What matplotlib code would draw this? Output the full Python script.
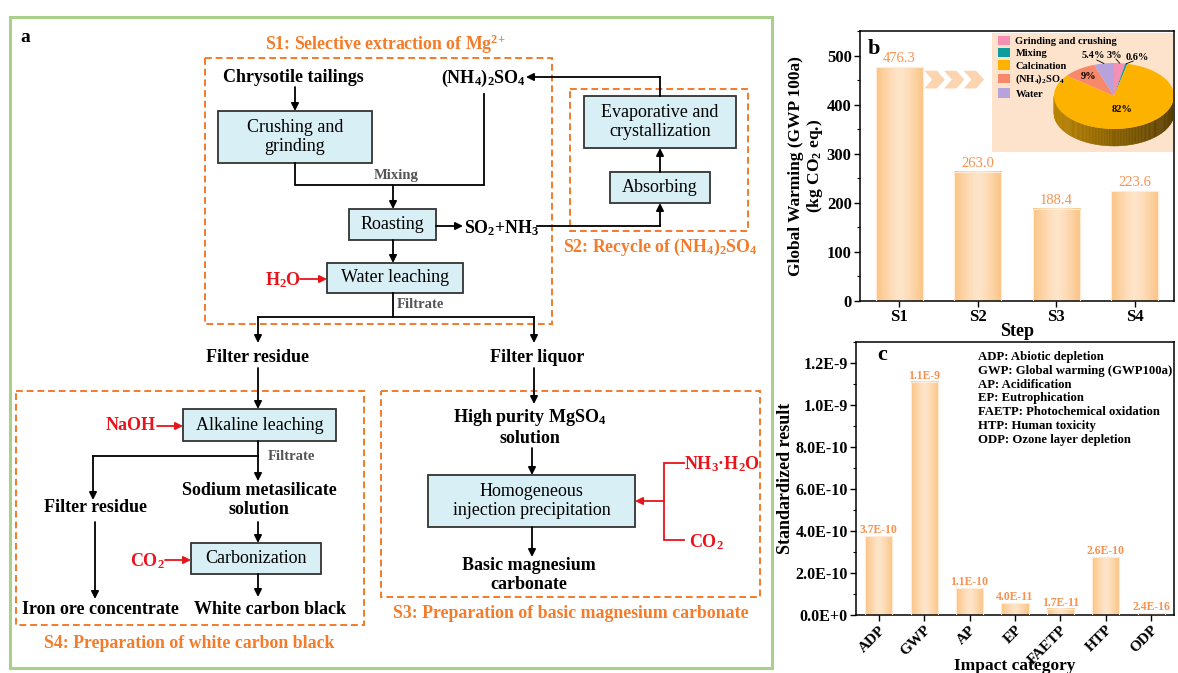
import numpy as np
import matplotlib
matplotlib.use("Agg")
import matplotlib.pyplot as plt
from matplotlib.patches import Rectangle, Polygon, Patch
from matplotlib.colors import LinearSegmentedColormap, to_rgb
from matplotlib.ticker import MultipleLocator, FuncFormatter, FixedLocator

plt.rcParams['font.family'] = ['Liberation Serif', 'DejaVu Serif']
plt.rcParams['font.weight'] = 'bold'
plt.rcParams['axes.labelweight'] = 'bold'
plt.rcParams['mathtext.fontset'] = 'custom'
plt.rcParams['mathtext.rm'] = 'Liberation Serif'
plt.rcParams['mathtext.bf'] = 'Liberation Serif:bold'
plt.rcParams['mathtext.it'] = 'Liberation Serif:italic'

# ---- panel b: GWP per step ----
steps = ["S1", "S2", "S3", "S4"]
gwp_step = [476.3, 263.0, 188.4, 223.6]

# ---- inset pie (S1 contribution) ----
pie_labels = ["Grinding and crushing", "Mixing", "Calcination",
              r"$\mathregular{(NH_4)_2SO_4}$", "Water"]
pie_share = [3, 0.6, 82, 9, 5.4]
pie_text = ["3%", "0.6%", "82%", "9%", "5.4%"]
pie_colors = ["#F590B4", "#109C9C", "#FDB200", "#F7896A", "#B8A2DC"]

# ---- panel c: standardized results ----
impact_cats = ["ADP", "GWP", "AP", "EP", "FAETP", "HTP", "ODP"]
impact_vals = [3.75e-10, 1.11e-9, 1.27e-10, 5.5e-11, 3.0e-11, 2.75e-10, 8e-12]
impact_text = ["3.7E-10", "1.1E-9", "1.1E-10", "4.0E-11", "1.7E-11", "2.6E-10", "2.4E-16"]
impact_notes = ["ADP: Abiotic depletion",
                "GWP: Global warming (GWP100a)",
                "AP: Acidification",
                "EP: Eutrophication",
                "FAETP: Photochemical oxidation",
                "HTP: Human toxicity",
                "ODP: Ozone layer depletion"]

ORANGE = "#F47B29"
RED = "#E8141B"
GRAY = "#555555"
BOX_FC = "#D8EFF6"
VAL_C = "#F7914F"
FS = 13       # flow chart labels
FS_T = 12.8   # section titles

fig = plt.figure(figsize=(11.78, 6.73), dpi=100)

# -----------------------------
# panel a: flow chart (pixel coords)
# -----------------------------
ov = fig.add_axes([0, 0, 1, 1], zorder=0)
ov.set_xlim(0, 1178)
ov.set_ylim(673, 0)
ov.axis('off')


def box(x0, y0, x1, y1, label):
    ov.add_patch(Rectangle((x0, y0), x1 - x0, y1 - y0, fc=BOX_FC, ec='#333333', lw=1.3))
    ov.text((x0 + x1) / 2, (y0 + y1) / 2, label, ha='center', va='center',
            fontsize=FS, fontweight='normal', linespacing=1.2)


def arrow(x0, y0, x1, y1, color='black'):
    ov.annotate('', xy=(x1, y1), xytext=(x0, y0),
                arrowprops=dict(arrowstyle='-|>', color=color, lw=1.3,
                                mutation_scale=11, shrinkA=0, shrinkB=0))


def path(xs, ys, color='black'):
    ov.plot(xs, ys, color=color, lw=1.3, solid_joinstyle='miter')


def dashed(x0, y0, x1, y1):
    ov.add_patch(Rectangle((x0, y0), x1 - x0, y1 - y0, fill=False, ec=ORANGE,
                           lw=1.4, ls=(0, (3.5, 2))))


def txt(x, y, s, size=FS, color='black', ha='center', **kw):
    ov.text(x, y, s, ha=ha, va='center', fontsize=size, color=color, **kw)


ov.add_patch(Rectangle((10, 17), 762, 651, fill=False, ec='#A8CF8C', lw=2.2))
txt(20, 37, "a", size=14, ha='left')

# S1
dashed(205, 58, 552, 324)
txt(385, 44, r"S1: Selective extraction of $\mathregular{Mg^{2{+}}}$", size=FS_T, color=ORANGE)
txt(293, 77, "Chrysotile tailings")
txt(483, 78, r"$\mathregular{(NH_4)_2SO_4}$")
arrow(295, 87, 295, 111)
box(218, 111, 372, 163, "Crushing and\ngrinding")
path([295, 295, 484, 484], [163, 185, 185, 94])
txt(396, 176, "Mixing", size=10.5, color=GRAY)
arrow(393, 185, 393, 209)
box(349, 209, 436, 240, "Roasting")
arrow(436, 226, 463, 226)
txt(464, 228, r"$\mathregular{SO_2{+}NH_3}$", ha='left', size=12.8)
path([537, 660], [226, 226])
arrow(660, 226, 660, 203)
arrow(393, 240, 393, 263)
box(327, 263, 463, 293, "Water leaching")
txt(283, 280, r"$\mathregular{H_2O}$", color=RED)
arrow(300, 279, 327, 279, color=RED)
path([393, 393], [293, 317])
txt(397, 305, "Filtrate", size=10.5, color=GRAY, ha='left')
path([258, 534], [317, 317])
arrow(258, 317, 258, 343)
arrow(534, 317, 534, 343)

# S2
dashed(570, 89, 748, 231)
box(610, 172, 710, 203, "Absorbing")
arrow(660, 172, 660, 148)
box(584, 96, 736, 148, "Evaporative and\ncrystallization")
path([660, 660], [96, 77])
arrow(660, 77, 526, 77)
txt(660, 247, r"S2: Recycle of $\mathregular{(NH_4)_2SO_4}$", size=FS_T, color=ORANGE)

# S4
txt(258, 357, "Filter residue")
arrow(258, 368, 258, 409)
dashed(16, 391, 364, 625)
box(183, 409, 336, 441, "Alkaline leaching")
txt(131, 426, "NaOH", color=RED)
arrow(157, 426, 183, 426, color=RED)
arrow(258, 441, 258, 481)
txt(268, 456, "Filtrate", size=10.5, color=GRAY, ha='left')
path([258, 93], [456, 456])
arrow(93, 456, 93, 500)
txt(95, 508, "Filter residue")
txt(259, 500, "Sodium metasilicate\nsolution", linespacing=1.15)
arrow(95, 522, 95, 599)
txt(100, 610, "Iron ore concentrate")
arrow(258, 522, 258, 543)
box(191, 543, 321, 574, "Carbonization")
txt(147, 561, r"$\mathregular{CO_2}$", color=RED)
arrow(165, 560, 191, 560, color=RED)
arrow(258, 574, 258, 597)
txt(270, 610, "White carbon black")
txt(189, 643, "S4: Preparation of white carbon black", size=FS_T, color=ORANGE)

# S3
txt(537, 357, "Filter liquor")
arrow(534, 368, 534, 404)
dashed(381, 391, 760, 597)
txt(530, 427, "High purity MgSO$\\mathregular{_4}$\nsolution", linespacing=1.15)
arrow(532, 448, 532, 475)
box(428, 475, 635, 527, "Homogeneous\ninjection precipitation")
path([684, 664, 664, 684], [463, 463, 540, 540], color=RED)
arrow(664, 501, 635, 501, color=RED)
txt(684, 464, r"$\mathregular{NH_3}$·$\mathregular{H_2O}$", color=RED, ha='left')
txt(689, 542, r"$\mathregular{CO_2}$", color=RED, ha='left')
arrow(532, 527, 532, 557)
txt(529, 575, "Basic magnesium\ncarbonate", linespacing=1.15)
txt(571, 613, "S3: Preparation of basic magnesium carbonate", size=FS_T, color=ORANGE)

# bar gradient shared by b and c
bar_cmap = LinearSegmentedColormap.from_list("barg", ["#FEE5CA", "#FBC383"])
grad = (np.abs(np.linspace(-1, 1, 80)) ** 1.3).reshape(1, -1)


def gradient_bars(ax, bars):
    for r in bars:
        ax.imshow(grad, extent=[r.get_x(), r.get_x() + r.get_width(), 0, r.get_height()],
                  cmap=bar_cmap, vmin=0, vmax=1, aspect='auto', zorder=2)


# -----------------------------
# panel b
# -----------------------------
axb = fig.add_axes([860 / 1178, 1 - 301 / 673, (1174 - 860) / 1178, (301 - 31) / 673], zorder=2)
xb = np.arange(len(steps))
bars_b = axb.bar(xb, gwp_step, width=0.6, color='none', edgecolor='#FFEBD6', lw=0.8, zorder=3)
gradient_bars(axb, bars_b)
for x, v in zip(xb, gwp_step):
    axb.text(x, v + 4, f"{v:.1f}", ha='center', va='bottom', color=VAL_C,
             fontsize=10.5, fontweight='normal')

# chevrons pointing at the inset
for k in range(3):
    x0 = 0.32 + k * 0.25
    axb.add_patch(Polygon([(x0, 469), (x0 + 0.16, 469), (x0 + 0.26, 451), (x0 + 0.16, 433),
                           (x0, 433), (x0 + 0.10, 451)], closed=True, fc='#FCD5B0', ec='none'))

axb.set_xlim(-0.5, 3.5)
axb.set_ylim(0, 550)
axb.set_xticks(xb)
axb.set_xticklabels(steps)
axb.yaxis.set_major_locator(FixedLocator(np.arange(0, 501, 100)))
axb.yaxis.set_minor_locator(MultipleLocator(50))
axb.tick_params(axis='both', which='major', direction='out', length=4, width=1,
                labelsize=12, pad=2)
axb.tick_params(axis='y', which='minor', direction='out', length=2.5, width=0.8)
axb.set_xlabel("Step", fontsize=13, labelpad=-2)
axb.set_ylabel("Global Warming (GWP 100a)\n(kg CO$\\mathregular{_2}$ eq.)", fontsize=12.5,
               labelpad=1, linespacing=1.1)
for s in axb.spines.values():
    s.set_linewidth(1.1)
axb.text(0.025, 0.935, "b", transform=axb.transAxes, fontsize=16, va='center', ha='left', zorder=6)

# inset with 3D pie
axi = fig.add_axes([992 / 1178, 1 - 152 / 673, (1173 - 992) / 1178, (152 - 32.5) / 673], zorder=4)
axi.set_xlim(992, 1173)
axi.set_ylim(152, 32.5)
axi.axis('off')
axi.add_patch(Rectangle((992, 32.5), 181, 119.5, fc='#FDE3CB', ec='none', zorder=0))

cx, cy, rx, ry, depth = 1114, 96, 60, 33, 17
cum = np.concatenate([[0], np.cumsum(pie_share) / np.sum(pie_share)])


def pt(theta, r=1.0):
    return cx + r * rx * np.cos(theta), cy - r * ry * np.sin(theta)


# side band (front half only)
side_th = np.linspace(np.pi, 2 * np.pi, 120)
for t0, t1 in zip(side_th[:-1], side_th[1:]):
    tm = 0.5 * (t0 + t1)
    frac = ((np.pi / 2 - tm) % (2 * np.pi)) / (2 * np.pi)
    idx = min(np.searchsorted(cum, frac) - 1, len(pie_share) - 1)
    shade = 0.74 - 0.4 * (np.cos(tm) + 1) / 2
    col = np.array(to_rgb(pie_colors[idx])) * shade
    x0, y0 = pt(t0)
    x1, y1 = pt(t1)
    axi.add_patch(Polygon([(x0, y0), (x1, y1), (x1, y1 + depth), (x0, y0 + depth)],
                          closed=True, fc=col, ec=col, lw=0.3, zorder=1))

# top face
for i in range(len(pie_share)):
    a0 = np.pi / 2 - 2 * np.pi * cum[i]
    a1 = np.pi / 2 - 2 * np.pi * cum[i + 1]
    th = np.linspace(a0, a1, max(4, int(abs(a1 - a0) * 40)))
    xs, ys = pt(th)
    axi.add_patch(Polygon(np.column_stack([np.r_[cx, xs], np.r_[cy, ys]]), closed=True,
                          fc=pie_colors[i], ec='none', zorder=2))

# slice labels
mids = np.pi / 2 - np.pi * (cum[:-1] + cum[1:])
inner = {2: 0.42, 3: 0.72}
outer = {0: (1114, 55), 1: (1137, 57), 4: (1093, 56)}
for i, lab in enumerate(pie_text):
    if i in inner:
        x, y = pt(mids[i], inner[i])
        axi.text(x, y, lab, ha='center', va='center', fontsize=7.5, zorder=5)
    else:
        tx, ty = outer[i]
        ex, ey = pt(mids[i])
        axi.plot([tx + (ex - tx) * 0.35, ex], [ty + 4, ey], color='black', lw=0.6, zorder=5)
        axi.text(tx, ty, lab, ha='center', va='center', fontsize=7.5, zorder=5)

axi.legend(handles=[Patch(fc=c, ec='none') for c in pie_colors], labels=pie_labels,
           loc='upper left', bbox_to_anchor=(0.02, 0.99), frameon=False,
           prop={'size': 7.5, 'weight': 'bold'}, handlelength=1.2, handleheight=1.0,
           handletextpad=0.5, labelspacing=0.2, borderaxespad=0.1, borderpad=0.1)

# -----------------------------
# panel c
# -----------------------------
axc = fig.add_axes([856 / 1178, 1 - 615 / 673, (1174 - 856) / 1178, (615 - 342) / 673], zorder=2)
xc = np.arange(len(impact_cats))
bars_c = axc.bar(xc, impact_vals, width=0.6, color='none', edgecolor='#FFEBD6', lw=0.8, zorder=3)
gradient_bars(axc, bars_c)
for x, v, s in zip(xc, impact_vals, impact_text):
    axc.text(x, v, s, ha='center', va='bottom', color=VAL_C, fontsize=8.5)

axc.set_xlim(-0.5, 6.5)
axc.set_ylim(0, 1.3e-9)


def sci(v, pos):
    if abs(v) < 1e-20:
        return "0.0E+0"
    e = int(np.floor(np.log10(abs(v))))
    m = round(v / 10.0 ** e, 6)
    if m >= 10:
        m /= 10
        e += 1
    return f"{m:.1f}E{e}"


axc.yaxis.set_major_locator(FixedLocator(np.arange(0, 1.21e-9, 2e-10)))
axc.yaxis.set_major_formatter(FuncFormatter(sci))
axc.yaxis.set_minor_locator(MultipleLocator(1e-10))
axc.set_xticks(xc)
axc.set_xticklabels(impact_cats, rotation=45, ha='right', rotation_mode='anchor')
axc.tick_params(axis='y', which='major', direction='out', length=4, width=1,
                labelsize=11.5, pad=2)
axc.tick_params(axis='x', which='major', direction='out', length=4, width=1,
                labelsize=11, pad=2)
axc.tick_params(axis='y', which='minor', direction='out', length=2.5, width=0.8)
axc.set_ylabel("Standardized result", fontsize=13, labelpad=1)
axc.set_xlabel("Impact category", fontsize=12.5)
axc.xaxis.set_label_coords(0.5, -0.158)
for s in axc.spines.values():
    s.set_linewidth(1.1)
axc.text(0.066, 0.952, "c", transform=axc.transAxes, fontsize=16, va='center', ha='left')
axc.text(0.384, 0.967, "\n".join(impact_notes), transform=axc.transAxes, fontsize=9.2,
         va='top', ha='left', linespacing=1.2)

fig.savefig("out.png", dpi=100)
